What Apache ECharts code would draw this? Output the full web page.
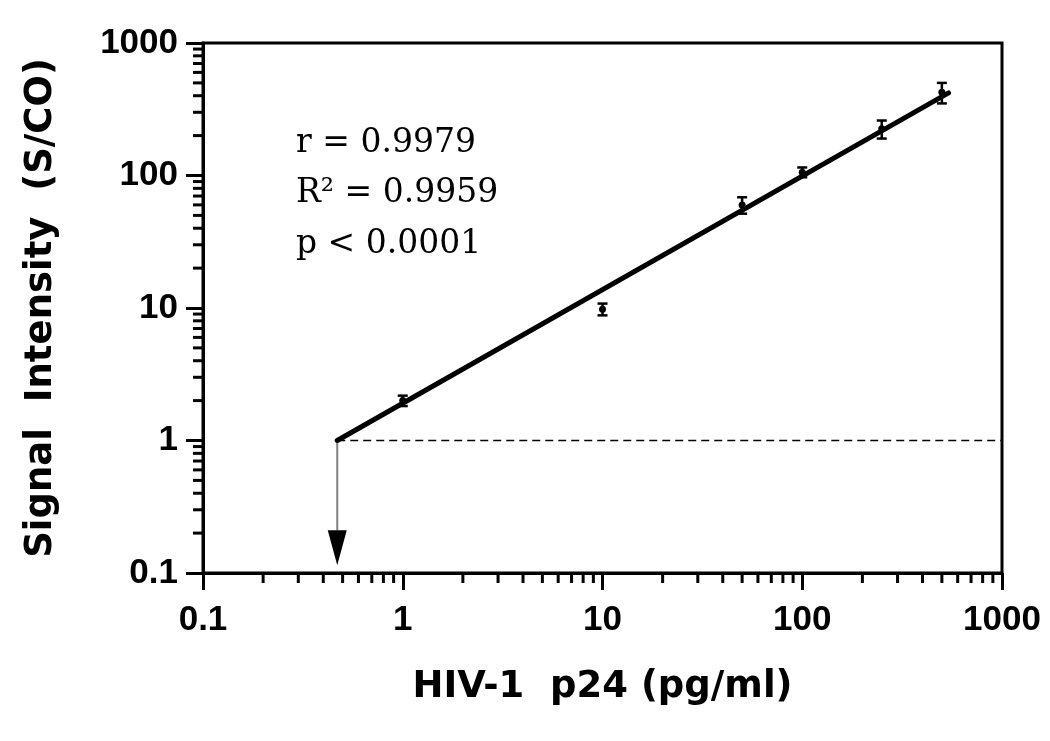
<!DOCTYPE html>
<html>
<head>
<meta charset="utf-8">
<title>HIV-1 p24 linearity</title>
<script src="https://cdn.jsdelivr.net/npm/echarts@6/dist/echarts.min.js"></script>
<style>
  html, body { margin: 0; padding: 0; background: #fff; }
  #chart { width: 1050px; height: 741px; }
</style>
</head>
<body>
<div id="chart"></div>
<script>
// measured points (mean +/- error)
const doseX = [1, 10, 50, 100, 250, 500];
const meanSignal = [2.0, 9.8, 60, 106, 225, 425];
const errSignal = [0.18, 1.0, 8.5, 9, 35, 75];

// regression line end points
const fitX = [0.47, 540];
const fitY = [1, 420];

// cut-off and detection limit arrow
const cutoffY = 1;
const cutoffX = [0.47, 1000];
const arrowX = 0.47;
const arrowLineY = [1, 0.21];
const arrowHeadY = 0.155;

// axis ticks
const majorTicks = [0.1, 1, 10, 100, 1000];
const minorTicks = [
  0.2, 0.3, 0.4, 0.5, 0.6, 0.7, 0.8, 0.9,
  2, 3, 4, 5, 6, 7, 8, 9,
  20, 30, 40, 50, 60, 70, 80, 90,
  200, 300, 400, 500, 600, 700, 800, 900
];

const chart = echarts.init(document.getElementById('chart'));

const serifFont = '33px "DejaVu Serif", "Liberation Serif", serif';

const axisCommon = {
  type: 'log',
  logBase: 10,
  min: majorTicks[0],
  max: majorTicks[majorTicks.length - 1],
  nameLocation: 'middle',
  nameTextStyle: { fontFamily: 'DejaVu Sans', fontWeight: 'bold', fontSize: 37, color: '#000' },
  axisLine: { show: true, lineStyle: { color: '#000', width: 3 } },
  axisTick: { show: true, inside: false, length: 17, lineStyle: { color: '#000', width: 3 } },
  axisLabel: {
    fontFamily: 'Liberation Sans, Arial', fontWeight: 'bold', fontSize: 35, color: '#000',
    formatter: (v) => String(v)
  },
  splitLine: { show: false },
  minorTick: { show: false }
};

// short outward minor tick marks, drawn at real log positions
function minorTickSeries(onX) {
  return {
    type: 'custom',
    silent: true,
    clip: false,
    z: 1,
    data: minorTicks.map((v) => (onX ? [v, 0.1] : [0.1, v])),
    renderItem(params, api) {
      const p = api.coord([api.value(0), api.value(1)]);
      const shape = onX
        ? { x1: p[0], y1: p[1], x2: p[0], y2: p[1] + 10 }
        : { x1: p[0] - 10, y1: p[1], x2: p[0], y2: p[1] };
      return { type: 'line', shape, style: { stroke: '#000', lineWidth: 3 } };
    }
  };
}

const option = {
  backgroundColor: '#fff',
  animation: false,
  grid: {
    left: 203, right: 48, top: 43, bottom: 168,
    show: true, borderColor: '#000', borderWidth: 3, backgroundColor: 'transparent'
  },
  xAxis: Object.assign({}, axisCommon, {
    name: 'HIV-1  p24 (pg/ml)',
    nameGap: 96,
    axisLabel: Object.assign({}, axisCommon.axisLabel, { margin: 30 })
  }),
  yAxis: Object.assign({}, axisCommon, {
    name: 'Signal  Intensity  (S/CO)',
    nameGap: 143,
    axisLabel: Object.assign({}, axisCommon.axisLabel, { margin: 25 })
  }),
  graphic: [
    { type: 'text', left: 296, top: 127, style: { text: 'r = 0.9979', font: serifFont, fill: '#000' } },
    { type: 'text', left: 296, top: 177, style: { text: 'R\u00B2 = 0.9959', font: serifFont, fill: '#000' } },
    { type: 'text', left: 296, top: 228, style: { text: 'p < 0.0001', font: serifFont, fill: '#000' } }
  ],
  series: [
    minorTickSeries(true),
    minorTickSeries(false),
    {
      // cut-off
      type: 'line',
      data: cutoffX.map((x) => [x, cutoffY]),
      symbol: 'none',
      lineStyle: { color: '#000', width: 1.5, type: [8, 5] },
      z: 2
    },
    {
      // detection-limit drop line
      type: 'line',
      data: arrowLineY.map((y) => [arrowX, y]),
      symbol: 'none',
      lineStyle: { color: '#808080', width: 2 },
      z: 2
    },
    {
      type: 'scatter',
      data: [[arrowX, arrowHeadY]],
      symbol: 'triangle',
      symbolRotate: 180,
      symbolSize: [19, 35],
      itemStyle: { color: '#000', opacity: 1 },
      z: 3
    },
    {
      // error bars with mean dots
      type: 'custom',
      z: 3,
      data: doseX.map((x, i) => [x, meanSignal[i], errSignal[i]]),
      renderItem(params, api) {
        const x = api.value(0), m = api.value(1), e = api.value(2);
        const top = api.coord([x, m + e]);
        const bot = api.coord([x, m - e]);
        const mid = api.coord([x, m]);
        const cap = 5;
        const st = { stroke: '#000', lineWidth: 2.5 };
        return {
          type: 'group',
          children: [
            { type: 'line', shape: { x1: top[0], y1: top[1], x2: bot[0], y2: bot[1] }, style: st },
            { type: 'line', shape: { x1: top[0] - cap, y1: top[1], x2: top[0] + cap, y2: top[1] }, style: st },
            { type: 'line', shape: { x1: bot[0] - cap, y1: bot[1], x2: bot[0] + cap, y2: bot[1] }, style: st },
            { type: 'circle', shape: { cx: mid[0], cy: mid[1], r: 3.5 }, style: { fill: '#000' } }
          ]
        };
      }
    },
    {
      // linear regression (log-log)
      type: 'line',
      data: fitX.map((x, i) => [x, fitY[i]]),
      symbol: 'none',
      lineStyle: { color: '#000', width: 5, cap: 'round' },
      z: 4
    }
  ]
};

chart.setOption(option);
</script>
</body>
</html>
